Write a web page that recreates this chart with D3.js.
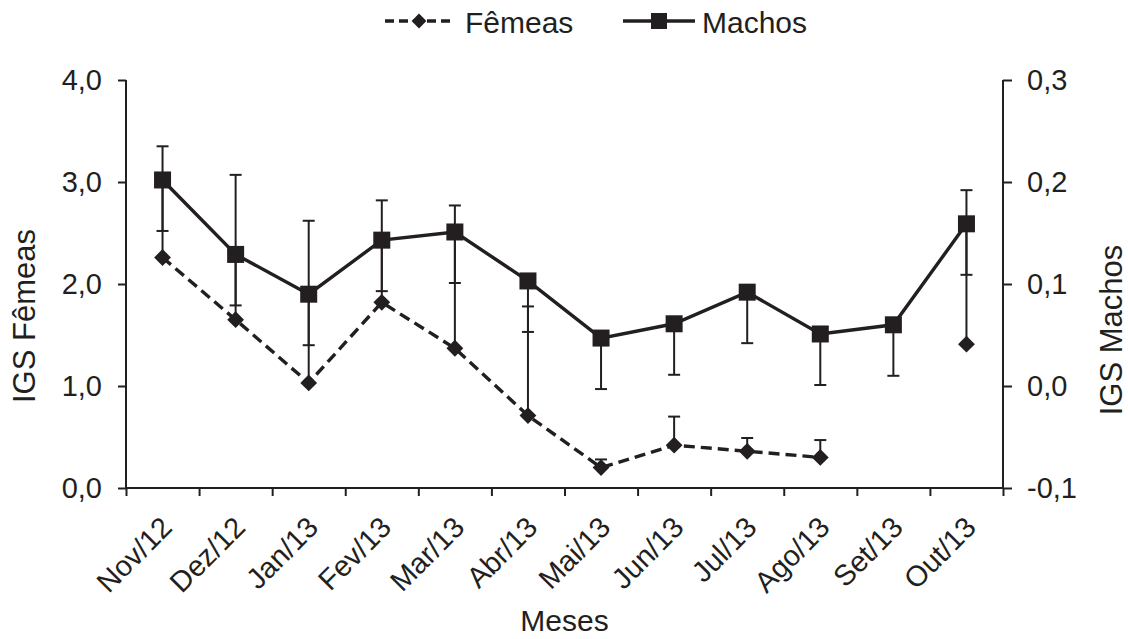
<!DOCTYPE html>
<html>
<head>
<meta charset="utf-8">
<script src="https://cdn.jsdelivr.net/npm/d3@7"></script>
<style>
  body { margin: 0; background: #fff; }
  svg { display: block; font-family: "Liberation Sans", Arial, sans-serif; }
  .axis path, .axis line { stroke: #231f20; stroke-width: 2px; }
  .axis text { fill: #231f20; font-size: 29px; }
</style>
</head>
<body>
<svg width="1128" height="639"></svg>
<script>
// months on the x axis
var months = ["Nov/12", "Dez/12", "Jan/13", "Fev/13", "Mar/13", "Abr/13",
              "Mai/13", "Jun/13", "Jul/13", "Ago/13", "Set/13", "Out/13"];

// females (left axis), error bars go up only
var femeas    = [2.26, 1.65, 1.03, 1.82, 1.37, 0.71, 0.20, 0.42, 0.36, 0.30, null, 1.41];
var femeasErr = [1.09, 1.42, 1.59, 1.00, 1.40, 1.07, 0.08, 0.28, 0.13, 0.17, null, 1.51];

// males (right axis), error bars go down only
var machos    = [0.202, 0.129, 0.090, 0.143, 0.151, 0.103, 0.047, 0.061, 0.092, 0.051, 0.060, 0.159];
var machosErr = [0.05, 0.05, 0.05, 0.05, 0.05, 0.05, 0.05, 0.05, 0.05, 0.05, 0.05, 0.05];

var leftTicks = [0, 1, 2, 3, 4];
var rightTicks = [-0.1, 0, 0.1, 0.2, 0.3];

var ink = "#231f20";
var svg = d3.select("svg");

var plot = { left: 126, right: 1003, top: 80, bottom: 488 };

var x = d3.scaleBand().domain(months).range([plot.left, plot.right]).padding(0);
var xEdge = d3.scaleLinear().domain([0, months.length]).range([plot.left, plot.right]);
var yL = d3.scaleLinear().domain([0, 4]).range([plot.bottom, plot.top]);
var yR = d3.scaleLinear().domain([-0.1, 0.3]).range([plot.bottom, plot.top]);

function comma(d) { return d3.format(".1f")(d).replace(".", ",").replace("−", "-"); }
function cx(i) { return x(months[i]) + x.bandwidth() / 2; }

// axes
svg.append("g").attr("class", "axis")
  .attr("transform", "translate(" + plot.left + ",0)")
  .call(d3.axisLeft(yL).tickValues(leftTicks).tickSize(8).tickPadding(16).tickFormat(comma))
  .call(function(g) { g.select(".domain").attr("d", "M0," + plot.top + "V" + plot.bottom); });

svg.append("g").attr("class", "axis")
  .attr("transform", "translate(" + plot.right + ",0)")
  .call(d3.axisRight(yR).tickValues(rightTicks).tickSize(9).tickPadding(15).tickFormat(comma))
  .call(function(g) { g.select(".domain").attr("d", "M0," + plot.top + "V" + plot.bottom); });

svg.append("g").attr("class", "axis")
  .attr("transform", "translate(0," + plot.bottom + ")")
  .call(d3.axisBottom(xEdge).tickValues(d3.range(months.length + 1)).tickSize(8).tickFormat(""))
  .call(function(g) { g.select(".domain").attr("d", "M" + plot.left + ",0H" + plot.right); });

// rotated month labels
svg.append("g").selectAll("text")
  .data(months)
  .enter()
  .append("text")
  .attr("transform", function(d) {
    return "translate(" + (x(d) + x.bandwidth() / 2 + 4) + ",522) rotate(-45)";
  })
  .attr("text-anchor", "end")
  .attr("dy", "0.35em")
  .style("font-size", "29px")
  .style("fill", ink)
  .text(function(d) { return d; });

// axis titles
svg.append("text")
  .attr("transform", "translate(35,316) rotate(-90)")
  .attr("text-anchor", "middle")
  .style("font-size", "31px").style("fill", ink)
  .text("IGS Fêmeas");

svg.append("text")
  .attr("transform", "translate(1122,330) rotate(-90)")
  .attr("text-anchor", "middle")
  .style("font-size", "31px").style("fill", ink)
  .text("IGS Machos");

svg.append("text")
  .attr("x", (plot.left + plot.right) / 2)
  .attr("y", 631)
  .attr("text-anchor", "middle")
  .style("font-size", "30px").style("fill", ink)
  .text("Meses");

var idx = d3.range(months.length);

// lines
var lineF = d3.line()
  .defined(function(i) { return femeas[i] != null; })
  .x(cx).y(function(i) { return yL(femeas[i]); });

var lineM = d3.line()
  .x(cx).y(function(i) { return yR(machos[i]); });

svg.append("path")
  .attr("d", lineF(idx))
  .attr("fill", "none")
  .attr("stroke", ink)
  .attr("stroke-width", 3.4)
  .attr("stroke-dasharray", "11,6");

svg.append("path")
  .attr("d", lineM(idx))
  .attr("fill", "none")
  .attr("stroke", ink)
  .attr("stroke-width", 3.4);

// error bars
var bars = svg.append("g").attr("stroke", ink).attr("stroke-width", 2);
idx.forEach(function(i) {
  if (femeas[i] != null) {
    var y0 = yL(femeas[i]), y1 = yL(femeas[i] + femeasErr[i]);
    bars.append("line").attr("x1", cx(i)).attr("x2", cx(i)).attr("y1", y0).attr("y2", y1);
    bars.append("line").attr("x1", cx(i) - 6).attr("x2", cx(i) + 6).attr("y1", y1).attr("y2", y1);
  }
  var m0 = yR(machos[i]), m1 = yR(machos[i] - machosErr[i]);
  bars.append("line").attr("x1", cx(i)).attr("x2", cx(i)).attr("y1", m0).attr("y2", m1);
  bars.append("line").attr("x1", cx(i) - 6).attr("x2", cx(i) + 6).attr("y1", m1).attr("y2", m1);
});

// markers
var diamond = d3.symbol().type(d3.symbolDiamond2).size(180);
svg.append("g").selectAll("path")
  .data(idx.filter(function(i) { return femeas[i] != null; }))
  .enter()
  .append("path")
  .attr("d", diamond)
  .attr("transform", function(i) { return "translate(" + cx(i) + "," + yL(femeas[i]) + ")"; })
  .attr("fill", ink);

svg.append("g").selectAll("rect")
  .data(idx)
  .enter()
  .append("rect")
  .attr("x", function(i) { return cx(i) - 8.5; })
  .attr("y", function(i) { return yR(machos[i]) - 8.5; })
  .attr("width", 17)
  .attr("height", 17)
  .attr("fill", ink);

// legend
var legend = svg.append("g");
legend.append("line")
  .attr("x1", 385).attr("x2", 453).attr("y1", 21).attr("y2", 21)
  .attr("stroke", ink).attr("stroke-width", 3.4).attr("stroke-dasharray", "9,5");
legend.append("path")
  .attr("d", d3.symbol().type(d3.symbolDiamond2).size(140))
  .attr("transform", "translate(419,21)")
  .attr("fill", ink);
legend.append("text")
  .attr("x", 465).attr("y", 32.5)
  .style("font-size", "30px").style("fill", ink)
  .text("Fêmeas");

legend.append("line")
  .attr("x1", 623).attr("x2", 695).attr("y1", 21).attr("y2", 21)
  .attr("stroke", ink).attr("stroke-width", 3.4);
legend.append("rect")
  .attr("x", 651).attr("y", 13).attr("width", 16).attr("height", 16)
  .attr("fill", ink);
legend.append("text")
  .attr("x", 702).attr("y", 32.5)
  .style("font-size", "30px").style("fill", ink)
  .text("Machos");
</script>
</body>
</html>
